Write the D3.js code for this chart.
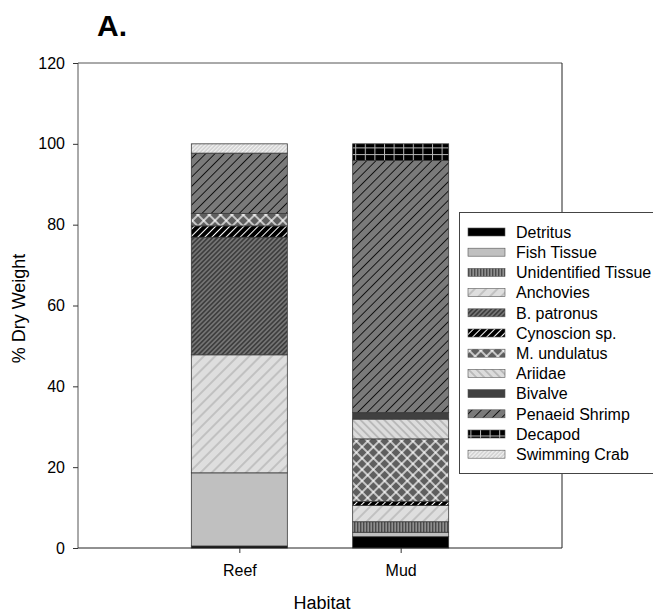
<!DOCTYPE html>
<html>
<head>
<meta charset="utf-8">
<script src="https://cdn.jsdelivr.net/npm/d3@7"></script>
<style>
  html, body { margin: 0; padding: 0; background: #fff; }
  svg { display: block; font-family: "Liberation Sans", Arial, sans-serif; }
</style>
</head>
<body>
<svg id="chart" width="653" height="614"></svg>
<script>
// ---- data ----
const habitats = ["Reef", "Mud"];
const categories = ["Detritus", "Fish Tissue", "Unidentified Tissue", "Anchovies", "B. patronus",
  "Cynoscion sp.", "M. undulatus", "Ariidae", "Bivalve", "Penaeid Shrimp", "Decapod", "Swimming Crab"];
const reefValues = [0.5, 18.1, 0, 29.2, 29.1, 2.8, 3.1, 0, 0, 14.9, 0, 2.3];
const mudValues  = [2.8, 1.1, 2.6, 4.0, 0, 1.0, 15.5, 4.9, 1.6, 62.4, 4.1, 0];
const yTicks = [0, 20, 40, 60, 80, 100, 120];
const titleText = "A.";
const xTitle = "Habitat";
const yTitle = "% Dry Weight";

// ---- layout ----
const svg = d3.select("#chart");
const L = 78, R = 562, T = 63, B = 548;
const barW = 96;

const x = d3.scalePoint().domain(habitats).range([L, R]).padding(1);
const y = d3.scaleLinear().domain([0, 120]).range([B, T]);

// ---- patterns ----
const defs = svg.append("defs");
function solid(id, c) {
  const p = defs.append("pattern").attr("id", id).attr("patternUnits", "userSpaceOnUse")
    .attr("width", 4).attr("height", 4);
  p.append("rect").attr("width", 4).attr("height", 4).attr("fill", c);
}
function stripes(id, bg, fg, w, lw, angle) {
  const p = defs.append("pattern").attr("id", id).attr("patternUnits", "userSpaceOnUse")
    .attr("width", w).attr("height", w).attr("patternTransform", `rotate(${angle})`);
  p.append("rect").attr("width", w).attr("height", w).attr("fill", bg);
  p.append("line").attr("x1", w / 2).attr("x2", w / 2).attr("y1", -1).attr("y2", w + 1)
    .attr("stroke", fg).attr("stroke-width", lw);
}
function cross(id, bg, fg, w, lw) {
  const p = defs.append("pattern").attr("id", id).attr("patternUnits", "userSpaceOnUse")
    .attr("width", w).attr("height", w).attr("patternTransform", "rotate(45)");
  p.append("rect").attr("width", w).attr("height", w).attr("fill", bg);
  p.append("line").attr("x1", w / 2).attr("x2", w / 2).attr("y1", -1).attr("y2", w + 1)
    .attr("stroke", fg).attr("stroke-width", lw);
  p.append("line").attr("y1", w / 2).attr("y2", w / 2).attr("x1", -1).attr("x2", w + 1)
    .attr("stroke", fg).attr("stroke-width", lw);
}
function vstripes(id, bg, fg, w, lw) {
  const p = defs.append("pattern").attr("id", id).attr("patternUnits", "userSpaceOnUse")
    .attr("width", w).attr("height", 4);
  p.append("rect").attr("width", w).attr("height", 4).attr("fill", bg);
  p.append("rect").attr("x", 0).attr("width", lw).attr("height", 4).attr("fill", fg);
}
function grid(id, bg, fg, w, h, lw) {
  const p = defs.append("pattern").attr("id", id).attr("patternUnits", "userSpaceOnUse")
    .attr("width", w).attr("height", h);
  p.append("rect").attr("width", w).attr("height", h).attr("fill", bg);
  p.append("rect").attr("x", 0).attr("width", lw).attr("height", h).attr("fill", fg);
  p.append("rect").attr("y", 0).attr("height", lw).attr("width", w).attr("fill", fg);
}
solid("p0", "#000000");
solid("p1", "#c0c0c0");
vstripes("p2", "#8e8e8e", "#4a4a4a", 3, 1.4);
stripes("p3", "#dedede", "#a4a4a4", 8, 1, 45);
stripes("p4", "#747474", "#111111", 3.3, 0.9, 45);
stripes("p5", "#000000", "#ffffff", 5, 1, 45);
cross("p6", "#5f5f5f", "#ffffff", 8, 1.3);
stripes("p7", "#dcdcdc", "#9a9a9a", 5.6, 1, -45);
solid("p8", "#404040");
stripes("p9", "#7a7a7a", "#111111", 6.6, 1, 45);
grid("p10", "#000000", "#b8b8b8", 9.6, 6.7, 1);
stripes("p11", "#d4d4d4", "#f4f4f4", 2.8, 1, 45);

// ---- stacked data ----
const rows = habitats.map((h, hi) => {
  const r = { habitat: h };
  categories.forEach((c, ci) => { r[c] = (hi === 0 ? reefValues : mudValues)[ci]; });
  return r;
});
const stacked = d3.stack().keys(categories)(rows);

// ---- frame ----
const frame = svg.append("g");
frame.append("line").attr("x1", L).attr("x2", R).attr("y1", y(120)).attr("y2", y(120)).attr("stroke", "#555");
frame.append("line").attr("x1", R).attr("x2", R).attr("y1", T).attr("y2", B).attr("stroke", "#222");

// ---- bars ----
const gBars = svg.append("g");
stacked.forEach((layer, li) => {
  gBars.selectAll(null).data(layer.filter(d => d[1] - d[0] > 0)).enter().append("rect")
    .attr("x", d => x(d.data.habitat) - barW / 2)
    .attr("width", barW)
    .attr("y", d => y(d[1]))
    .attr("height", d => y(d[0]) - y(d[1]))
    .attr("fill", `url(#p${li})`)
    .attr("stroke", "#3a3a3a")
    .attr("stroke-width", 0.8);
});

// ---- axes ----
const yAxis = svg.append("g").attr("transform", `translate(${L},0)`)
  .call(d3.axisLeft(y).tickValues(yTicks).tickSize(5).tickPadding(8));
yAxis.select(".domain").attr("stroke", "#555").attr("d", `M0,${B}V${T}`);
yAxis.selectAll(".tick line").attr("stroke", "#333");
yAxis.selectAll("text").attr("font-size", 16).attr("fill", "#000")
  .attr("font-family", "Liberation Sans, Arial, sans-serif");

const xAxis = svg.append("g").attr("transform", `translate(0,${B})`)
  .call(d3.axisBottom(x).tickSize(5).tickPadding(12));
xAxis.select(".domain").attr("stroke", "#222").attr("d", `M${L},0H${R}`);
xAxis.selectAll(".tick line").attr("stroke", "#333");
xAxis.selectAll("text").attr("font-size", 16).attr("fill", "#000")
  .attr("font-family", "Liberation Sans, Arial, sans-serif");

// ---- titles ----
svg.append("text").attr("x", 97).attr("y", 36).attr("font-size", 30).attr("font-weight", "bold")
  .text(titleText);
svg.append("text").attr("x", (L + R) / 2 + 2).attr("y", 609).attr("text-anchor", "middle")
  .attr("font-size", 18).text(xTitle);
svg.append("text").attr("transform", `translate(25,${(T + B) / 2 + 3}) rotate(-90)`)
  .attr("text-anchor", "middle").attr("font-size", 18).text(yTitle);

// ---- legend ----
const lg = svg.append("g");
lg.append("rect").attr("x", 459.5).attr("y", 212.5).attr("width", 220).attr("height", 261)
  .attr("fill", "#fff").attr("stroke", "#444");
const rowH = 20.2, row0 = 232;
categories.forEach((c, i) => {
  const cy = row0 + i * rowH;
  lg.append("rect").attr("x", 468).attr("y", cy - 4).attr("width", 37).attr("height", 8)
    .attr("fill", `url(#p${i})`).attr("stroke", "#555").attr("stroke-width", 0.6);
  lg.append("text").attr("x", 516).attr("y", cy).attr("dy", "0.36em")
    .attr("font-size", 16).text(c);
});
</script>
</body>
</html>
